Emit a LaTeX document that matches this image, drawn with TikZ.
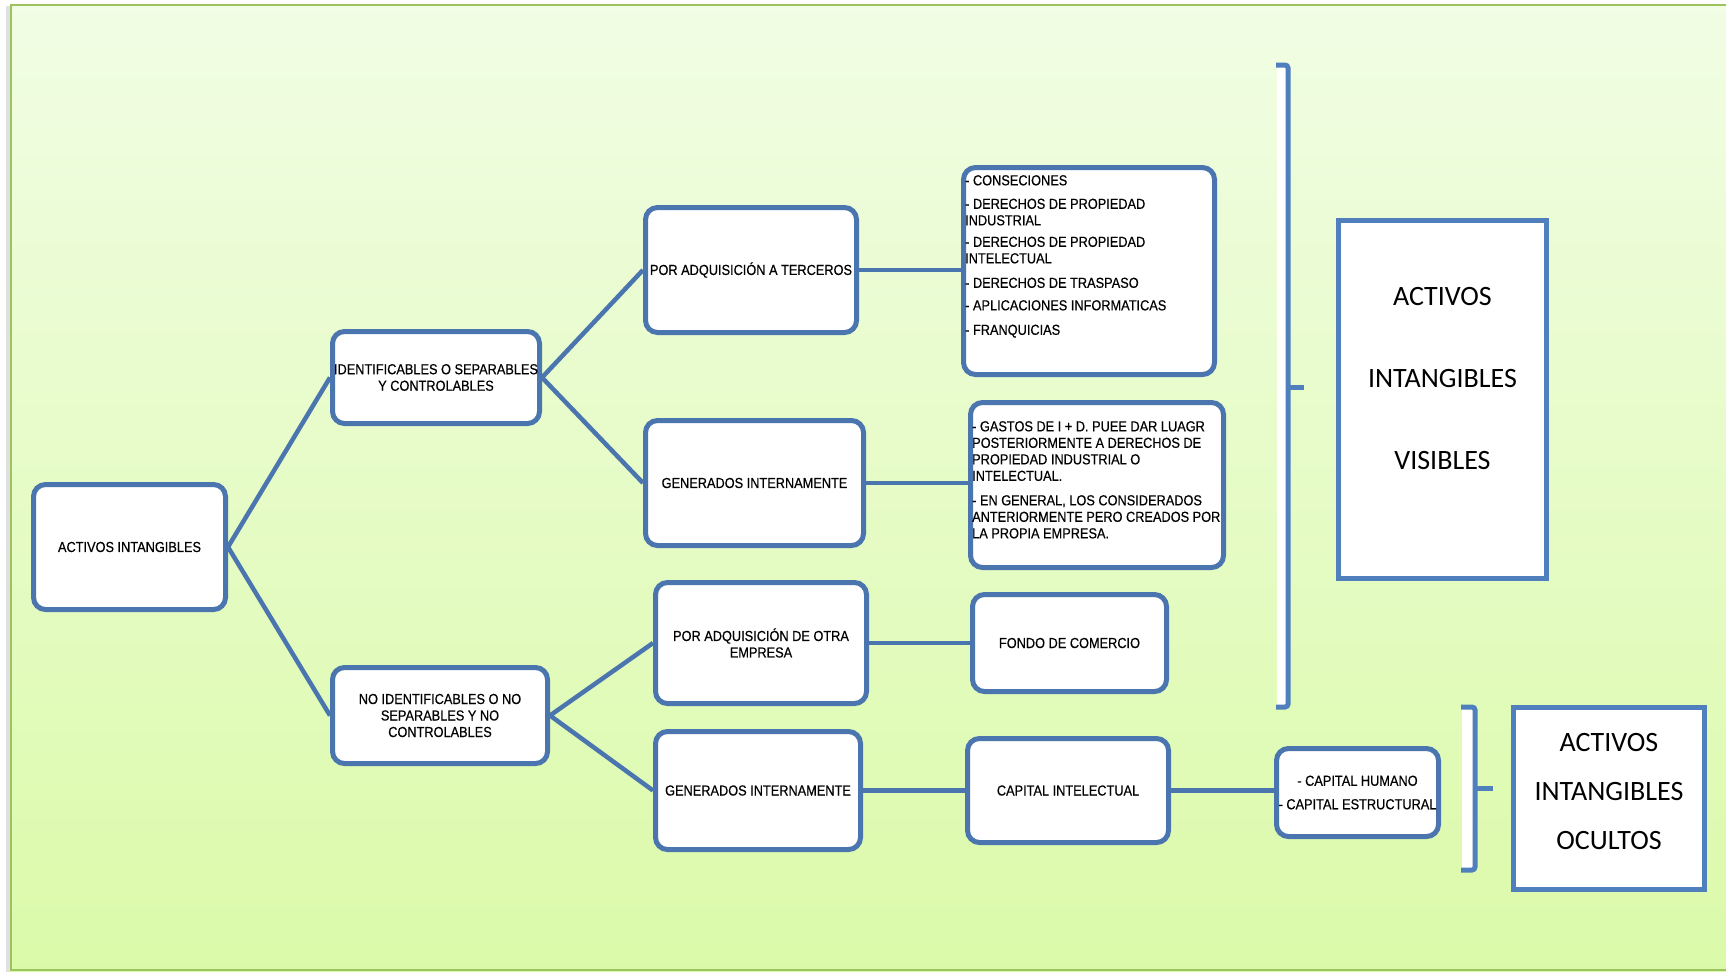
\documentclass[tikz,border=0pt]{standalone}
\usepackage{fontspec}
\setmainfont{Liberation Sans}
\newfontfamily\narrowf[FakeStretch=0.88,FakeBold=0.5]{Liberation Sans}
\newfontfamily\bigf{Carlito}
\definecolor{boxblue}{HTML}{4A75AE}
\definecolor{brblue}{HTML}{4F7FBD}
\definecolor{bgtop}{HTML}{F1FDE4}
\definecolor{bgbot}{HTML}{DBFAA9}
\definecolor{frame}{HTML}{9DC35C}
\tikzset{
  rbox/.style={draw=boxblue, line width=5pt, fill=white, rounded corners=12pt,
    inner sep=0pt, align=center, font=\narrowf\fontsize{14.5}{16.5}\selectfont},
  sbox/.style={draw=brblue, line width=5pt, fill=white, inner sep=0pt},
  conn/.style={draw=boxblue, line width=4.5pt},
  brk/.style={draw=brblue, line width=5pt},
  listtxt/.style={inner sep=0pt, align=left, anchor=north west,
    font=\narrowf\fontsize{14.5}{16.5}\selectfont},
  bigtxt/.style={inner sep=0pt, align=center, font=\bigf\fontsize{28}{34}\selectfont}
}
\begin{document}
\begin{tikzpicture}[x=1pt,y=-1pt]
\useasboundingbox (0,0) rectangle (1726,972);
\fill[white] (0,0) rectangle (1726,972);
\fill[black!12] (6,6) rectangle (10,972);
\shade[top color=bgtop, bottom color=bgbot] (10,4) rectangle (1726,971);
\draw[frame, line width=2pt] (1726,5) -- (11,5) -- (11,970) -- (1726,970);

% boxes
\node[rbox, minimum width=192pt, minimum height=125pt] (root) at (129.5,547) {ACTIVOS INTANGIBLES};
\node[rbox, minimum width=207pt, minimum height=92pt] (ident) at (436,377.5) {IDENTIFICABLES O SEPARABLES\\Y CONTROLABLES};
\node[rbox, minimum width=215pt, minimum height=96pt] (noid) at (440,715.5) {NO IDENTIFICABLES O NO\\SEPARABLES Y NO\\CONTROLABLES};
\node[rbox, minimum width=211pt, minimum height=125pt] (pat) at (751,270) {POR ADQUISICIÓN A TERCEROS};
\node[rbox, minimum width=218pt, minimum height=125pt] (gi1) at (754.5,483) {GENERADOS INTERNAMENTE};
\node[rbox, minimum width=211pt, minimum height=121pt] (pao) at (761,643) {POR ADQUISICIÓN DE OTRA\\EMPRESA};
\node[rbox, minimum width=205pt, minimum height=118pt] (gi2) at (758,790.5) {GENERADOS INTERNAMENTE};
\node[rbox, minimum width=251pt, minimum height=207pt] (l1) at (1089,271) {};
\node[rbox, minimum width=253pt, minimum height=165pt] (l2) at (1097,485) {};
\node[rbox, minimum width=194pt, minimum height=97pt] (fondo) at (1069.5,643) {FONDO DE COMERCIO};
\node[rbox, minimum width=201pt, minimum height=104pt] (capint) at (1068,790.5) {CAPITAL INTELECTUAL};
\node[rbox, minimum width=162pt, minimum height=88pt] (caphum) at (1357.5,792.5) {- CAPITAL HUMANO\\[7pt]- CAPITAL ESTRUCTURAL};
\node[sbox, minimum width=208pt, minimum height=358pt] (vis) at (1442.5,399.5) {};
\node[sbox, minimum width=191pt, minimum height=182pt] (ocu) at (1609,798.5) {};

% list texts
\node[listtxt] (l1t) at (965,175) {- CONSECIONES\\[7pt]- DERECHOS DE PROPIEDAD\\INDUSTRIAL\\[5pt]- DERECHOS DE PROPIEDAD\\INTELECTUAL\\[8pt]- DERECHOS DE TRASPASO\\[6pt]- APLICACIONES INFORMATICAS\\[8pt]- FRANQUICIAS};
\node[listtxt] (l2t) at (972,421) {- GASTOS DE I + D. PUEE DAR LUAGR\\POSTERIORMENTE A DERECHOS DE\\PROPIEDAD INDUSTRIAL O\\INTELECTUAL.\\[8pt]- EN GENERAL, LOS CONSIDERADOS\\ANTERIORMENTE PERO CREADOS POR\\LA PROPIA EMPRESA.};

% big texts
\node[bigtxt] (vist) at (1442.5,379) {ACTIVOS\\[48pt]INTANGIBLES\\[48pt]VISIBLES};
\node[bigtxt] (ocut) at (1609,792) {ACTIVOS\\[15pt]INTANGIBLES\\[15pt]OCULTOS};

% connectors
\draw[conn] (root.east) -- (ident.west);
\draw[conn] (root.east) -- (noid.west);
\draw[conn] (ident.east) -- (pat.west);
\draw[conn] (ident.east) -- (gi1.west);
\draw[conn] (noid.east) -- (pao.west);
\draw[conn] (noid.east) -- (gi2.west);
\draw[conn] (pat.east) -- (pat.east -| l1.west);
\draw[conn] (gi1.east) -- (gi1.east -| l2.west);
\draw[conn] (pao.east) -- (pao.east -| fondo.west);
\draw[conn] (gi2.east) -- (gi2.east -| capint.west);
\draw[conn] (capint.east) -- (capint.east -| caphum.west);

% brackets
\fill[white] (1277,65) rectangle (1288,707);
\draw[brk, rounded corners=3pt] (1276,65) -- (1288,65) -- (1288,707) -- (1276,707);
\draw[brk] (1288,387) -- (1304,387);
\fill[white] (1462,707) rectangle (1475,870);
\draw[brk, rounded corners=3pt] (1461,707) -- (1475,707) -- (1475,870) -- (1461,870);
\draw[brk] (1475,788) -- (1493,788);
\end{tikzpicture}
\end{document}
